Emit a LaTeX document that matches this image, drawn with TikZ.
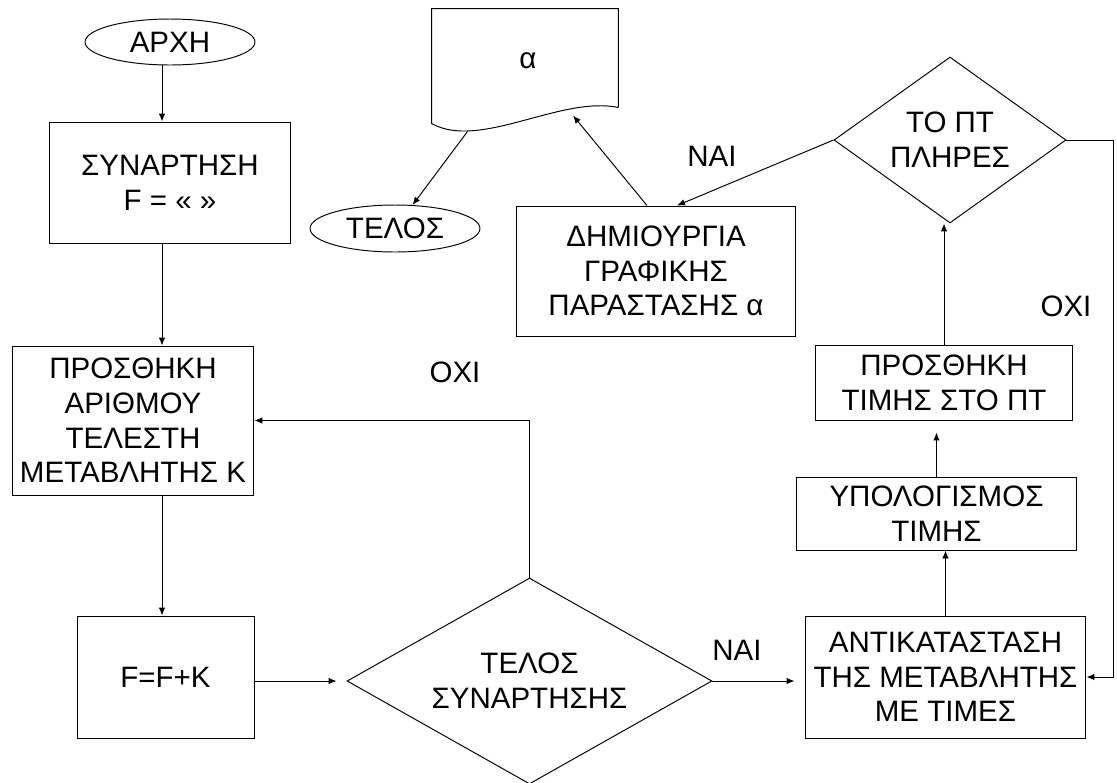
\documentclass[tikz,border=0pt]{standalone}
\usepackage{fontspec}
\setmainfont{Liberation Sans}
\usetikzlibrary{shapes.geometric,arrows.meta,calc}
\begin{document}
\begin{tikzpicture}[x=.02cm,y=-.02cm,>={Latex[length=.16cm,width=.13cm]},line width=.55pt,
 font=\fontsize{16.8}{19.8}\selectfont,
 box/.style={draw,rectangle,align=center,inner sep=0pt},
 term/.style={draw,ellipse,inner sep=0pt,minimum width=3.4cm},
 decision/.style={draw,diamond,align=center,inner sep=0pt},
 lbl/.style={inner sep=0pt}]
 \useasboundingbox (0,0) rectangle (1117,782);
 \coordinate (spine) at (162,0);
 % left column
 \node[term,minimum height=.92cm] (arxi) at (170,42) {ΑΡΧΗ};
 \node[box,minimum width=4.84cm,minimum height=2.42cm] (synart) at (170,182.5) {ΣΥΝΑΡΤΗΣΗ\\F = « »};
 \node[box,minimum width=4.84cm,minimum height=2.98cm] (prosth) at (133,420.5) {ΠΡΟΣΘΗΚΗ\\ΑΡΙΘΜΟΥ\\ΤΕΛΕΣΤΗ\\ΜΕΤΑΒΛΗΤΗΣ Κ};
 \node[box,minimum width=3.54cm,minimum height=2.44cm] (fbox) at (165.5,677) {F=F+K};
 \node[decision,aspect=1.77,minimum width=7.3cm,minimum height=4.12cm] (telossyn) at (529.5,681) {ΤΕΛΟΣ\\ΣΥΝΑΡΤΗΣΗΣ};
 % output part
 \node[term,minimum height=.94cm] (telos) at (395,228.5) {ΤΕΛΟΣ};
 \node[minimum width=3.72cm,minimum height=1.96cm,inner sep=0pt] (doc) at (525,58) {};
 \node[lbl] (alpha) at (528,61) {α};
 \draw (doc.south east) -- (doc.north east) -- (doc.north west) -- ($(doc.south west)+(0,16)$)
  .. controls +(48,27) and +(-58,-12) .. (doc.south east);
 \node[box,minimum width=5.6cm,minimum height=2.6cm] (dimiourgia) at (656,271) {ΔΗΜΙΟΥΡΓΙΑ\\ΓΡΑΦΙΚΗΣ\\ΠΑΡΑΣΤΑΣΗΣ α};
 % right column
 \node[decision,aspect=1.4,minimum width=4.64cm,minimum height=3.32cm] (pliris) at (950,140) {ΤΟ ΠΤ\\ΠΛΗΡΕΣ};
 \node[box,minimum width=5.16cm,minimum height=1.5cm] (ptimis) at (944,382.5) {ΠΡΟΣΘΗΚΗ\\ΤΙΜΗΣ ΣΤΟ ΠΤ};
 \node[box,minimum width=5.62cm,minimum height=1.46cm] (ypol) at (936.5,513.5) {ΥΠΟΛΟΓΙΣΜΟΣ\\ΤΙΜΗΣ};
 \node[box,minimum width=5.62cm,minimum height=2.44cm] (antikat) at (945.5,677) {ΑΝΤΙΚΑΤΑΣΤΑΣΗ\\ΤΗΣ ΜΕΤΑΒΛΗΤΗΣ\\ΜΕ ΤΙΜΕΣ};
 % labels
 \node[lbl] (oxi1) at (455,372) {ΟΧΙ};
 \node[lbl] (nai1) at (712,156) {ΝΑΙ};
 \node[lbl] (nai2) at (737,650) {ΝΑΙ};
 \node[lbl] (oxi2) at (1066,306) {ΟΧΙ};
 % connectors
 \draw[->] (spine |- arxi.south) -- (spine |- synart.north);
 \draw[->] (spine |- synart.south) -- (spine |- prosth.north);
 \draw[->] (spine |- prosth.south) -- (spine |- fbox.north);
 \draw[->,shorten >=.2cm] (telossyn.west -| fbox.east) -- (telossyn.west);
 \draw[->] (telossyn.north) |- (prosth.east);
 \draw[->,shorten >=.2cm] (telossyn.east) -- (antikat.west |- telossyn.east);
 \draw[->] (antikat.north) -- (antikat.north |- ypol.south);
 \draw[->,shorten >=.24cm] (ypol.north) -- (ypol.north |- ptimis.south);
 \draw[->] (ptimis.north) -- (ptimis.north |- pliris.south);
 \draw[->] (pliris.east) -- ++(47,0) |- (antikat.east);
 \draw[->] (pliris.west) -- ($(dimiourgia.north)+(21,0)$);
 \draw[->] ($(dimiourgia.north)+(-9,0)$) -- ($(doc.south)+(48,8)$);
 \draw[->] ($(doc.south west)+(36,24)$) -- (telos);
\end{tikzpicture}
\end{document}
